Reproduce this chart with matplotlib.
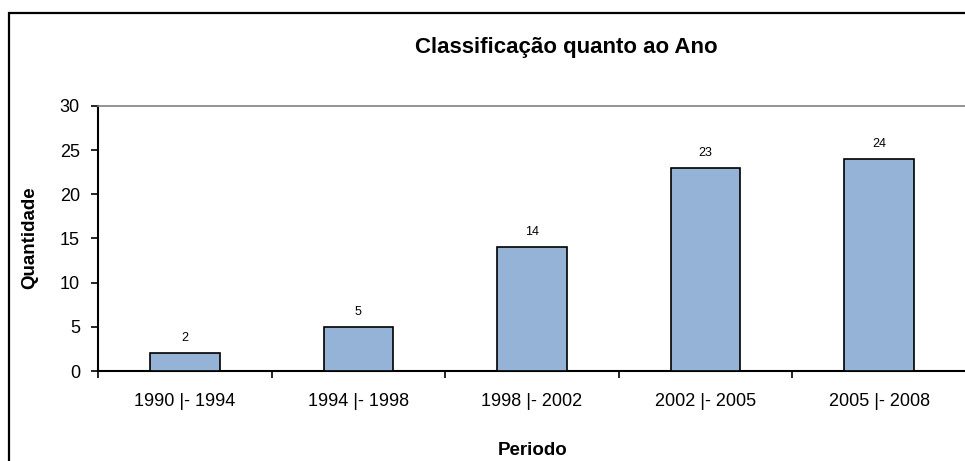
import matplotlib
matplotlib.use("Agg")
import matplotlib.pyplot as plt
import matplotlib.patches as mpatches
import numpy as np

plt.rcParams['font.family'] = ['Liberation Sans', 'DejaVu Sans']

categories = ["1990 |- 1994", "1994 |- 1998", "1998 |- 2002", "2002 |- 2005", "2005 |- 2008"]
values = [2, 5, 14, 23, 24]
yticks = [0, 5, 10, 15, 20, 25, 30]

W, H = 965, 461
fig = plt.figure(figsize=(W / 100, H / 100), dpi=100)
ax = fig.add_axes([98 / W, 1 - 371 / H, 868 / W, (371 - 106) / H])

x = np.arange(len(categories))
bars = ax.bar(x, values, width=0.4, color="#95B3D7", edgecolor="black", linewidth=1.2, zorder=3)
for xi, v in zip(x, values):
    ax.annotate(str(v), (xi, v), xytext=(0, 11), textcoords="offset points",
                ha="center", va="center", fontsize=9)

ax.set_xlim(-0.5, len(categories) - 0.5)
ax.set_ylim(0, 30)
ax.set_yticks(yticks)
ax.set_yticklabels([str(t) for t in yticks], fontsize=13)
ax.set_xticks(x)
ax.set_xticklabels(categories, fontsize=13)
ax.set_xticks(np.arange(len(categories) + 1) - 0.5, minor=True)
ax.tick_params(axis="x", which="major", length=0, pad=16)
ax.tick_params(axis="x", which="minor", length=5, width=1.2, direction="out")
ax.tick_params(axis="y", which="major", length=5, width=1.2, direction="out", pad=8)

ax.spines["top"].set_color("#808080")
ax.spines["top"].set_linewidth(1.2)
ax.spines["right"].set_visible(False)
ax.spines["left"].set_linewidth(1.5)
ax.spines["bottom"].set_linewidth(1.5)

fig.text(566 / W, 1 - 48 / H, "Classificação quanto ao Ano", ha="center", va="center",
         fontsize=16, fontweight="bold")
fig.text(533 / W, 1 - 450 / H, "Periodo", ha="center", va="center",
         fontsize=13.5, fontweight="bold")
fig.text(30 / W, 1 - 238 / H, "Quantidade", ha="center", va="center",
         fontsize=13.5, fontweight="bold", rotation=90)

border = mpatches.Rectangle((8.5 / W, -0.2), 2.0, 1.2 - 12.5 / H, transform=fig.transFigure,
                            fill=False, edgecolor="black", linewidth=1.6)
fig.patches.append(border)

fig.savefig("out.png", dpi=100)
